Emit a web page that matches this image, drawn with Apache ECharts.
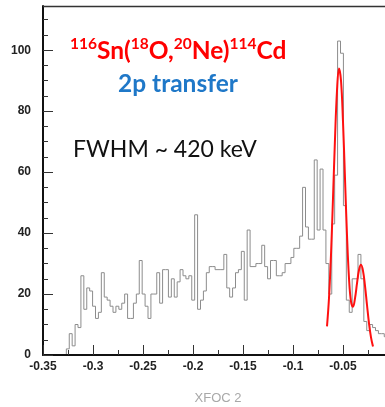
<!DOCTYPE html>
<html>
<head>
<meta charset="utf-8">
<script src="https://cdn.jsdelivr.net/npm/echarts@6/dist/echarts.min.js"></script>
<style>
  html, body { margin: 0; padding: 0; background: #ffffff; }
  #chart { width: 385px; height: 407px; }
</style>
</head>
<body>
<div id="chart"></div>
<script>
// Histogram binning along the focal-plane coordinate
const X_MIN = -0.35;
const X_MAX = 0;
const BIN_COUNT = 120;

// Counts per bin, left to right
const counts = [
  0, 0, 0, 0, 0, 0, 0, 0, 2, 7,
  3, 10, 9, 26, 15, 22, 21, 16, 12, 14,
  27, 19, 18, 16, 14, 16, 15, 17, 20, 12,
  12, 17, 20, 31, 20, 16, 12, 20, 20, 27,
  17, 28, 28, 19, 25, 19, 24, 28, 26, 25,
  26, 18, 46, 15, 18, 21, 27, 29, 29, 28,
  28, 28, 33, 22, 19, 22, 27, 28, 34, 18,
  41, 29, 29, 30, 30, 36, 29, 25, 31, 31,
  26, 26, 27, 30, 30, 32, 35, 35, 39, 55,
  42, 38, 38, 64, 41, 61, 41, 30, 20, 43,
  59, 103, 99, 49, 18, 14, 25, 25, 33, 25,
  11, 8, 10, 9, 8, 7, 7, 6, 5, 4
];

// Fitted two-peak curve (ground state + excited state)
const fitX = [
  -0.066, -0.064, -0.062, -0.060, -0.058, -0.056, -0.054, -0.052,
  -0.050, -0.048, -0.046, -0.044, -0.042, -0.040, -0.038, -0.036,
  -0.034, -0.032, -0.030, -0.028, -0.026, -0.024, -0.022, -0.020
];
const fitY = [
  9.4, 18.7, 32.9, 51.4, 70.9, 86.7, 94.0, 90.0,
  76.5, 57.8, 39.3, 25.2, 17.5, 15.8, 18.6, 23.5,
  27.9, 29.6, 27.6, 22.7, 16.4, 10.4, 5.8, 2.8
];

// Axis ranges and tick spacing
const Y_MAX = 114.5;
const X_STEP = 0.05;
const Y_STEP = 20;
const Y_MINOR_STEP = 5;

const binWidth = (X_MAX - X_MIN) / BIN_COUNT;
const histData = counts.map((c, i) => [X_MIN + i * binWidth, c]);
histData.push([X_MAX, counts[counts.length - 1]]);
const fitData = fitX.map((x, i) => [x, fitY[i]]);

const axisFont = 'Liberation Sans, Arial, sans-serif';

const chart = echarts.init(document.getElementById('chart'), null, { renderer: 'canvas' });

chart.setOption({
  animation: false,
  backgroundColor: '#ffffff',
  grid: {
    left: 43, right: -8, top: 6, bottom: 52,
    outerBoundsMode: 'none',
    containLabel: false,
    show: false
  },
  xAxis: {
    type: 'value', position: 'bottom',
    min: X_MIN, max: X_MAX, interval: X_STEP,
    z: 10,
    axisLine: { onZero: false, lineStyle: { color: '#111', width: 2 } },
    axisTick: { inside: true, length: 10, lineStyle: { color: '#333', width: 1 } },
    minorTick: { show: true, splitNumber: 2, length: 5, lineStyle: { color: '#333', width: 1 } },
    splitLine: { show: false },
    minorSplitLine: { show: false },
    axisLabel: { fontFamily: axisFont, fontWeight: 'bold', fontSize: 12, color: '#222', margin: 6 },
    name: 'XFOC 2',
    nameLocation: 'middle',
    nameGap: 37,
    nameTextStyle: { fontFamily: axisFont, fontSize: 13, color: '#a8a8a8' }
  },
  yAxis: [
    {
      type: 'value', position: 'left',
      min: 0, max: Y_MAX, interval: Y_STEP,
      z: 10,
      axisLine: { show: true, onZero: false, lineStyle: { color: '#111', width: 2 } },
      axisTick: { show: true, inside: true, length: 10, lineStyle: { color: '#333', width: 1 } },
      splitLine: { show: false },
      axisLabel: { fontFamily: axisFont, fontWeight: 'bold', fontSize: 12, color: '#222', margin: 12, showMaxLabel: false }
    },
    {
      type: 'value', position: 'left',
      min: 0, max: Y_MAX, interval: Y_MINOR_STEP,
      z: 10,
      axisLine: { show: false, onZero: false },
      axisTick: { show: true, inside: true, length: 5, lineStyle: { color: '#333', width: 1 } },
      splitLine: { show: false },
      axisLabel: { show: false }
    }
  ],
  series: [
    {
      type: 'line',
      xAxisIndex: 0, yAxisIndex: 0,
      data: histData,
      step: 'end',
      symbol: 'none',
      z: 2,
      lineStyle: { color: '#8c8c8c', width: 1 }
    },
    {
      type: 'line',
      xAxisIndex: 0, yAxisIndex: 0,
      data: fitData,
      smooth: 0.4,
      symbol: 'none',
      z: 3,
      lineStyle: { color: '#ff1010', width: 2 }
    }
  ],
  graphic: [
    {
      id: 'reaction',
      type: 'text',
      left: 70, top: 36,
      style: {
        text: '{s|116}{b|Sn(}{s|18}{b|O,}{s|20}{b|Ne)}{s|114}{b|Cd}',
        rich: {
          b: { fontFamily: 'Lato', fontWeight: 'bold', fontSize: 24.5, lineHeight: 30, fill: '#ff0000' },
          s: { fontFamily: 'Lato', fontWeight: 'bold', fontSize: 15.5, lineHeight: 15, verticalAlign: 'top', fill: '#ff0000' }
        }
      }
    },
    {
      id: 'channel',
      type: 'text',
      left: 118, top: 72,
      style: {
        text: '2p transfer',
        fontFamily: 'Lato', fontWeight: 'bold', fontSize: 24.5, fill: '#1f78c8'
      }
    },
    {
      id: 'resolution',
      type: 'text',
      left: 73, top: 138,
      style: {
        text: 'FWHM ~ 420 keV',
        fontFamily: 'Lato', fontSize: 23, fill: '#111111'
      }
    }
  ]
});

// Upper edge of the frame, placed from the grid's pixel extent
const topLeft = chart.convertToPixel({ gridIndex: 0 }, [X_MIN, Y_MAX]);
const topRight = chart.convertToPixel({ gridIndex: 0 }, [X_MAX, Y_MAX]);
const frameY = Math.round(topLeft[1]) + 0.5;
chart.setOption({
  graphic: [{
    id: 'frameTop',
    type: 'line',
    z: 100,
    silent: true,
    shape: { x1: topLeft[0], y1: frameY, x2: topRight[0], y2: frameY },
    style: { stroke: '#333333', lineWidth: 1.5 }
  }]
});
</script>
</body>
</html>
